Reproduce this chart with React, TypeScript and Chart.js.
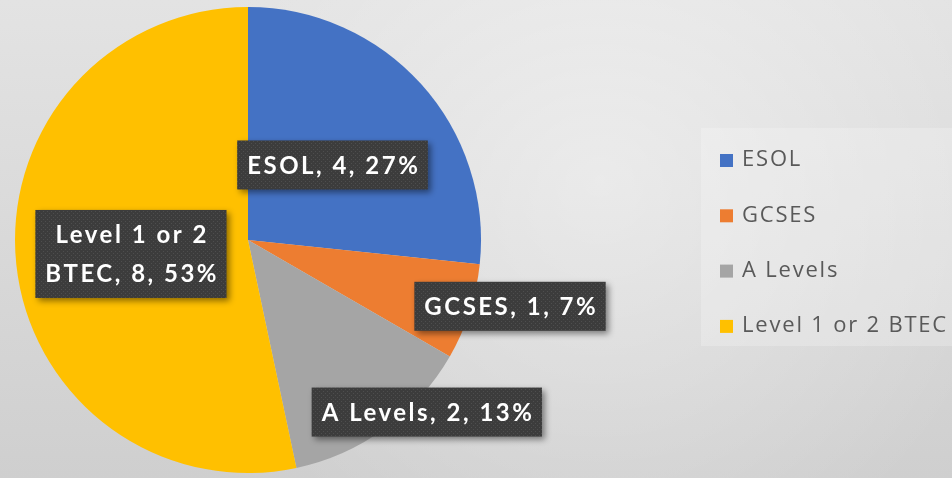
import React, { useEffect, useRef } from "react";
import { Chart, registerables } from "chart.js";

Chart.register(...registerables);

const categories = ["ESOL", "GCSES", "A Levels", "Level 1 or 2 BTEC"];
const counts = [4, 1, 2, 8];
const sliceColors = ["#4472C4", "#ED7D31", "#A5A5A5", "#FFC000"];
const wrapLabel = [false, false, false, true];

// label placement (layout only): radial factor and angle offset (deg) from slice mid-angle
const labelRadius = [0.485, 1.16, 1.065, 0.506];
const labelAngle = [0.4, -3.8, -10.1, -0.8];

const LABEL_FONT = "bold 24px Lato, 'Open Sans', sans-serif";
const LABEL_SPACING = 2.5;
const LEGEND_FONT = "22px 'Open Sans', 'Noto Sans', sans-serif";
const LEGEND_SPACING = 1.8;

function makeDotPattern(ctx: CanvasRenderingContext2D) {
  const c = document.createElement("canvas");
  c.width = 4;
  c.height = 4;
  const p = c.getContext("2d")!;
  p.fillStyle = "#3c3c3c";
  p.fillRect(0, 0, 4, 4);
  p.fillStyle = "#4e4e4e";
  p.fillRect(1, 1, 1, 1);
  p.fillRect(3, 3, 1, 1);
  return ctx.createPattern(c, "repeat") || "#404040";
}

const backgroundPlugin = {
  id: "bgPlugin",
  beforeDraw(chart: any) {
    const { ctx, width, height } = chart;
    ctx.save();
    const lin = ctx.createLinearGradient(0, 0, 0, height);
    lin.addColorStop(0, "#e3e3e3");
    lin.addColorStop(1, "#cfcfcf");
    ctx.fillStyle = lin;
    ctx.fillRect(0, 0, width, height);
    const g = ctx.createRadialGradient(600, 180, 0, 600, 180, 420);
    g.addColorStop(0, "rgba(255,255,255,0.42)");
    g.addColorStop(1, "rgba(255,255,255,0)");
    ctx.fillStyle = g;
    ctx.fillRect(0, 0, width, height);
    // legend panel
    ctx.fillStyle = "rgba(255,255,255,0.22)";
    ctx.fillRect(701, 128, width - 701, 218);
    ctx.restore();
  },
};

const labelPlugin = {
  id: "labelPlugin",
  afterDatasetsDraw(chart: any) {
    const { ctx } = chart;
    const meta = chart.getDatasetMeta(0);
    const data = chart.data.datasets[0].data as number[];
    const total = data.reduce((a, b) => a + b, 0);
    const pattern = makeDotPattern(ctx);
    ctx.save();
    ctx.font = LABEL_FONT;
    (ctx as any).letterSpacing = LABEL_SPACING + "px";
    meta.data.forEach((arc: any, i: number) => {
      const { x, y, startAngle, endAngle, outerRadius } = arc.getProps(
        ["x", "y", "startAngle", "endAngle", "outerRadius"],
        true
      );
      const mid = (startAngle + endAngle) / 2 + (labelAngle[i] * Math.PI) / 180;
      const r = outerRadius * labelRadius[i];
      const cx = x + Math.cos(mid) * r;
      const cy = y + Math.sin(mid) * r;
      const pct = Math.round((data[i] / total) * 100);
      const full = `${chart.data.labels[i]}, ${data[i]}, ${pct}%`;
      let lines = [full];
      if (wrapLabel[i]) {
        const half = full.length / 2;
        let best = -1;
        for (let k = 0; k < full.length; k++) {
          if (full[k] === " " && (best < 0 || Math.abs(k - half) < Math.abs(best - half))) best = k;
        }
        lines = [full.slice(0, best), full.slice(best + 1)];
      }
      const lineH = 39;
      const padX = 10;
      const padY = 5;
      const w = Math.max(...lines.map((l) => ctx.measureText(l).width - LABEL_SPACING)) + padX * 2;
      const h = lines.length * lineH + padY * 2;
      ctx.save();
      ctx.shadowColor = "rgba(0,0,0,0.45)";
      ctx.shadowBlur = 6;
      ctx.shadowOffsetX = 3;
      ctx.shadowOffsetY = 3;
      ctx.fillStyle = pattern;
      ctx.fillRect(cx - w / 2, cy - h / 2, w, h);
      ctx.restore();
      ctx.fillStyle = "#ffffff";
      ctx.textAlign = "center";
      ctx.textBaseline = "middle";
      lines.forEach((l, k) => {
        const ly = cy - ((lines.length - 1) * lineH) / 2 + k * lineH + 1;
        ctx.fillText(l, cx + LABEL_SPACING / 2, ly);
      });
    });
    ctx.restore();
  },
};

const legendPlugin = {
  id: "legendPlugin",
  afterDraw(chart: any) {
    const { ctx } = chart;
    ctx.save();
    ctx.font = LEGEND_FONT;
    (ctx as any).letterSpacing = LEGEND_SPACING + "px";
    ctx.textBaseline = "middle";
    ctx.textAlign = "left";
    (chart.data.labels as string[]).forEach((lab, i) => {
      const yc = 160 + i * 55.3;
      ctx.fillStyle = chart.data.datasets[0].backgroundColor[i];
      ctx.fillRect(720, yc - 6, 13, 13);
      ctx.fillStyle = "#595959";
      ctx.fillText(lab, 742, yc);
    });
    ctx.restore();
  },
};

export default function App() {
  const ref = useRef<HTMLCanvasElement | null>(null);
  useEffect(() => {
    if (!ref.current) return;
    const chart = new Chart(ref.current, {
      type: "pie",
      data: {
        labels: categories,
        datasets: [
          {
            data: counts,
            backgroundColor: sliceColors,
            borderWidth: 0,
          },
        ],
      },
      options: {
        responsive: false,
        animation: false,
        layout: { padding: { left: 15, right: 471, top: 7, bottom: 5 } },
        plugins: {
          legend: { display: false },
          tooltip: { enabled: false },
        },
      },
      plugins: [backgroundPlugin, labelPlugin, legendPlugin],
    });
    return () => chart.destroy();
  }, []);
  return (
    <div style={{ position: "absolute", left: 0, top: 0, width: 952, height: 478 }}>
      <canvas ref={ref} width={952} height={478} />
    </div>
  );
}
